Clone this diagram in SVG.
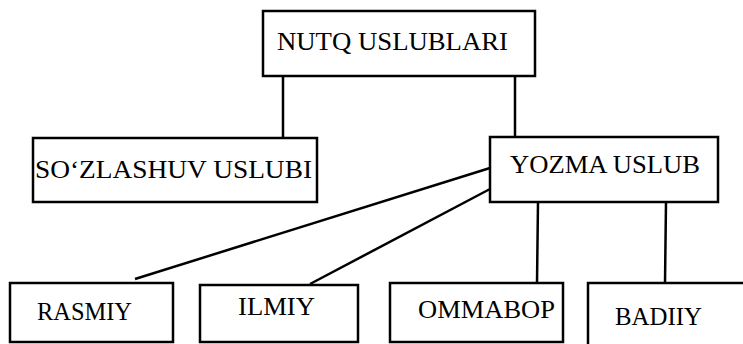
<svg xmlns="http://www.w3.org/2000/svg" width="743" height="344" viewBox="0 0 743 344">
<style>
.box{fill:#fff;stroke:#000;stroke-width:2.5}
.lbl{font-family:"Liberation Serif","Times New Roman",serif;font-size:25.5px;fill:#000}
.con{stroke:#000;stroke-width:2.5;fill:none}
</style>
<rect width="743" height="344" fill="#fff"/>
<g id="connectors">
<line class="con" x1="283" y1="76" x2="283" y2="138"/>
<line class="con" x1="515" y1="76" x2="515" y2="137"/>
<line class="con" x1="490" y1="168" x2="135" y2="279"/>
<line class="con" x1="490" y1="189" x2="310" y2="284"/>
<line class="con" x1="538" y1="202" x2="537" y2="283"/>
<line class="con" x1="666" y1="202" x2="665" y2="283"/>
</g>
<g id="nutq">
<rect class="box" x="263" y="11" width="272" height="65"/>
<text class="lbl" x="277" y="50" textLength="231" lengthAdjust="spacingAndGlyphs">NUTQ USLUBLARI</text>
</g>
<g id="sozlashuv">
<rect class="box" x="33" y="138" width="284" height="64"/>
<text class="lbl" x="35" y="178" textLength="277" lengthAdjust="spacingAndGlyphs">SO‘ZLASHUV USLUBI</text>
</g>
<g id="yozma">
<rect class="box" x="490" y="137" width="228" height="65"/>
<text class="lbl" x="510" y="173" textLength="190" lengthAdjust="spacingAndGlyphs">YOZMA USLUB</text>
</g>
<g id="rasmiy">
<rect class="box" x="10" y="283" width="163" height="59"/>
<text class="lbl" x="37" y="320" textLength="95" lengthAdjust="spacingAndGlyphs">RASMIY</text>
</g>
<g id="ilmiy">
<rect class="box" x="200" y="285" width="158" height="57"/>
<text class="lbl" x="238" y="315" textLength="77" lengthAdjust="spacingAndGlyphs">ILMIY</text>
</g>
<g id="ommabop">
<rect class="box" x="390" y="283" width="173" height="59"/>
<text class="lbl" x="418" y="318" textLength="137" lengthAdjust="spacingAndGlyphs">OMMABOP</text>
</g>
<g id="badiiy">
<rect class="box" x="588" y="283" width="170" height="70"/>
<text class="lbl" x="615" y="325" textLength="87" lengthAdjust="spacingAndGlyphs">BADIIY</text>
</g>
</svg>
